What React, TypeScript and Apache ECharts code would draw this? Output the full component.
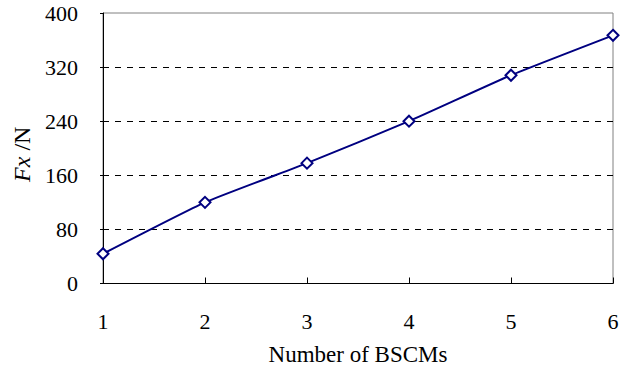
import React, { useEffect, useRef } from "react";
import * as echarts from "echarts";

// Number of BSCMs on the x axis, Fx (N) on the y axis
const categories = ["1", "2", "3", "4", "5", "6"];
const fxValues = [44, 120, 178, 240, 308, 367];
const yTicks = { min: 0, max: 400, interval: 80 };

const FONT = "Liberation Serif";

export default function App() {
  const ref = useRef<HTMLDivElement>(null);

  useEffect(() => {
    if (!ref.current) return;
    const chart = echarts.init(ref.current, undefined, { renderer: "svg" });
    chart.setOption({
      animation: false,
      backgroundColor: "#ffffff",
      textStyle: { fontFamily: FONT },
      grid: {
        left: 103,
        top: 13,
        right: 30,
        bottom: 90.5,
        show: true,
        borderColor: "#808080",
        borderWidth: 1,
        backgroundColor: "transparent",
      },
      xAxis: {
        type: "category",
        data: categories,
        boundaryGap: false,
        axisLine: { show: true, lineStyle: { color: "#000", width: 1 } },
        axisTick: { show: true, inside: true, length: 6, lineStyle: { color: "#000" } },
        axisLabel: { color: "#000", fontFamily: FONT, fontSize: 22, margin: 27 },
        splitLine: { show: false },
        name: "Number of BSCMs",
        nameLocation: "middle",
        nameGap: 59,
        nameTextStyle: { color: "#000", fontFamily: FONT, fontSize: 23 },
      },
      yAxis: {
        type: "value",
        min: yTicks.min,
        max: yTicks.max,
        interval: yTicks.interval,
        axisLine: { show: true, lineStyle: { color: "#000", width: 1 } },
        axisTick: { show: true, length: 3, lineStyle: { color: "#000" } },
        axisLabel: { color: "#000", fontFamily: FONT, fontSize: 22, margin: 25 },
        splitLine: {
          show: true,
          showMinLine: false,
          showMaxLine: false,
          lineStyle: { color: "#000", type: [6, 6], width: 1 },
        },
        name: "{i|Fx} /N",
        nameLocation: "middle",
        nameRotate: 90,
        nameGap: 68,
        nameTextStyle: {
          color: "#000",
          fontFamily: FONT,
          fontSize: 24,
          padding: [0, 12, 0, 0],
          rich: {
            i: { fontStyle: "italic", fontFamily: FONT, fontSize: 24, color: "#000" },
          },
        },
      },
      series: [
        {
          type: "line",
          data: fxValues,
          smooth: 0.15,
          symbol: "diamond",
          symbolSize: 11,
          showSymbol: true,
          lineStyle: { color: "#000080", width: 2 },
          itemStyle: { color: "#ffffff", borderColor: "#000080", borderWidth: 2 },
          z: 5,
        },
      ],
    });
    return () => chart.dispose();
  }, []);

  return <div ref={ref} style={{ width: 643, height: 374, position: "absolute", left: 0, top: 0 }} />;
}
